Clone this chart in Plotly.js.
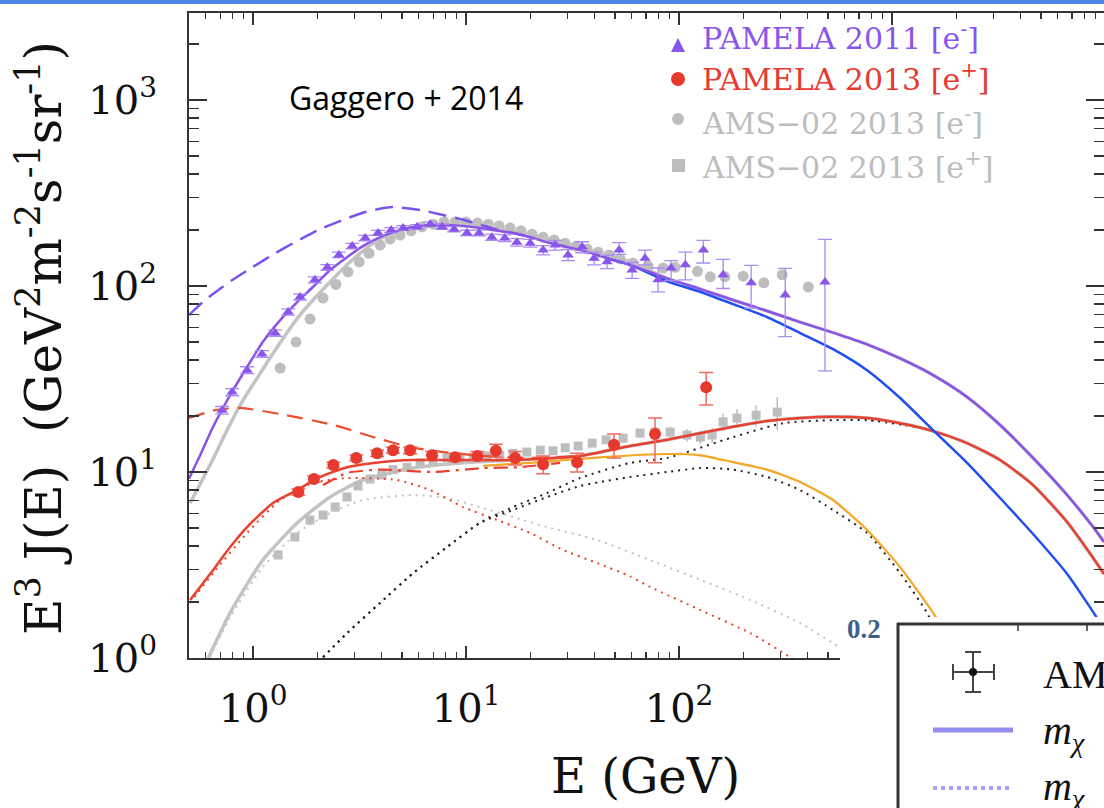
<!DOCTYPE html>
<html><head><meta charset="utf-8">
<script src="https://cdn.plot.ly/plotly-3.0.1.min.js"></script>
<style>html,body{margin:0;padding:0;background:#fff}#chart{width:1104px;height:808px}</style>
</head><body><div id="chart"></div>
<script>
// ---------------- data ----------------
// PAMELA 2011 electrons
const pamE = [0.715,0.797,0.937,1.10,1.27,1.46,1.66,1.95,2.23,2.53,2.92,3.36,3.86,4.45,5.06,5.89,6.78,7.72,8.78,10.1,11.5,13.2,15.2,17.3,20.0,23.0,26.2,30.1,35.1,39.9,45.9,52.3,60.2,69.2,79.7,91.7,107,130,161,218,315,484];
const pamJ = [21.5,26.9,35.3,43.1,55.9,72.5,87.2,108,126,147,164,181,193,200,205,208,215,208,202,193,193,183,181,172,170,156,166,147,162,141,135,156,122,141,108,125,130,156,115,104,89.5,105];
const pamErrUp = [1,1.2,1.5,1.8,2.2,2.8,3.3,4,4.5,5,5.5,6,6,6,6,6,6.5,6.5,6.5,6.5,7,7,7.5,8,8,9,10,10,11,11,11,15,12,15,17,12,22,20,24,25,35,73];
const pamErrDn = [1,1.2,1.5,1.8,2.2,2.8,3.3,4,4.5,5,5.5,6,6,6,6,6,6.5,6.5,6.5,6.5,7,7,7.5,8,8,9,10,10,11,11,11,8,12,11,15,18,22,23,18,28,36,70];
// PAMELA 2013 positrons
const posE = [1.63,1.93,2.38,3.05,3.82,4.54,5.46,6.92,8.88,11.3,13.8,17.0,23.0,33.2,49.5,77.1,134];
const posJ = [7.81,9.17,10.9,11.9,12.6,13.1,13.1,12.3,12.0,12.2,13.0,11.9,11.0,11.3,14.0,16.0,28.6];
const posErrUp = [0.3,0.35,0.4,0.45,0.5,0.5,0.55,0.6,0.6,0.7,1.1,1.0,1.2,1.3,2.0,3.5,5.7];
const posErrDn = [0.3,0.35,0.4,0.45,0.5,0.5,0.55,0.6,0.6,0.7,1.0,1.0,1.2,1.3,2.1,4.8,5.7];
// AMS-02 2013 electrons
const amsEmE = [1.34,1.59,1.85,2.13,2.45,2.79,3.15,3.50,3.95,4.40,4.90,5.52,6.21,7.0,7.88,8.88,10.0,11.3,12.7,14.3,16.1,18.1,20.4,23.0,25.9,29.2,32.8,37.0,41.7,46.9,52.8,60.8,71.5,84.1,95.8,122,140,164,200,250,305,404];
const amsEmJ = [36.2,50.0,66.4,86.2,102,119,135,150,166,179,188,198,208,215,221,221,221,218,215,210,205,198,190,183,177,170,164,158,152,147,140,133,128,125,126,120,112,112,113,104,115,98.8];
// AMS-02 2013 positrons
const amsEpE = [1.31,1.57,1.85,2.13,2.43,2.76,3.11,3.54,4.03,4.54,5.28,6.08,7.00,8.14,9.37,10.8,12.5,14.4,16.6,19.3,22.3,25.6,29.2,33.6,39.1,45.4,54.6,65.6,77.1,90.7,109,126,143,161,187,230,289];
const amsEpJ = [3.58,4.47,5.52,5.87,6.48,7.34,8.41,9.17,9.64,10.3,10.6,11.2,11.6,11.9,12.0,12.0,12.2,12.3,12.6,12.8,13.1,13.0,13.5,13.8,14.3,14.9,15.2,16.2,16.4,16.4,15.8,15.4,15.8,18.6,19.5,20.2,21.0];
const amsEpErr = [0.15,0.18,0.2,0.2,0.22,0.25,0.28,0.3,0.3,0.32,0.33,0.35,0.36,0.37,0.38,0.38,0.4,0.4,0.42,0.45,0.5,0.5,0.55,0.6,0.65,0.7,0.8,0.9,1.0,1.1,1.2,1.3,1.5,2.0,2.3,2.7,4.3];

// model curves
const eLisE = [0.5,0.595,0.763,0.989,1.27,1.57,2.02,2.62,3.36,4.5,6.08,7.8,9.7,11.6,14.0,20.0];
const eLisJ = [69.8,84,104,126,150,172,200,226,250,266,256,241,227,214,201,184];
const eTotE = [0.5,0.564,0.649,0.780,0.937,1.11,1.34,1.61,1.91,2.30,2.76,3.28,3.95,4.74,5.64,6.78,8.14,9.68,11.6,14.0,16.6,20.0,24.0,28.5,34.3,41.2,49.0,58.9,87.8,126,179,259,370,528,763,1091,1557,2250,3214,4591,6637,8790,9890];
const eTotJ = [9.2,12.3,17.5,25.9,36.7,50.0,65.6,82.0,98.8,122,143,164,183,198,208,213,213,210,205,198,193,183,172,164,156,147,138,130,110,96.3,84.1,73.4,64.0,56.2,48.6,40.8,33.2,25.3,17.9,11.9,7.52,5.06,4.20];
const eBlueE = [41.2,49.0,58.9,87.8,126,179,259,370,528,763,1091,1557,2250,3214,4591,6637,9170,9890];
const eBlueJ = [147,138,130,106,92.9,80.0,68.1,55.9,45.8,35.3,25.0,16.8,11.2,7.25,4.64,2.83,1.64,1.41];
const eGrayE = [0.506,0.628,0.755,0.898,1.03,1.27,1.63,2.18,2.92,3.86,5.01,6.78,9.68,14.0,20.0,34.3,58.9,87.8,126,179,259,370,528,763,1091,1557,2250,3214,4591,6637,8790,9890];
const eGrayJ = [6.81,10.9,16.8,24.4,31.2,45.3,68.1,98.8,138,177,200,210,213,202,188,160,135,110,96.3,84.1,73.4,64.0,56.2,48.6,40.8,33.2,25.3,17.9,11.9,7.52,5.06,4.20];
const pTotE = [0.506,0.649,0.780,0.937,1.24,1.61,2.06,2.76,3.95,5.64,9.68,16.6,34.3,58.9,87.8,179,259,370,528,763,1091,1557,2250,3214,4591,6637,8790,9890];
const pTotJ = [2.05,2.97,3.95,5.06,6.81,8.00,9.40,10.6,11.3,11.6,11.6,11.6,12.2,13.8,14.9,17.5,18.8,19.5,19.8,19.5,18.3,16.6,14.3,11.6,8.51,5.38,3.45,2.83];
const pLisE = [0.5,0.663,0.869,1.34,2.38,3.82,5.46,7.80,12.0,20.0,34.3];
const pLisJ = [19.5,21.5,22.1,20.5,17.9,15.2,13.6,12.8,12.2,11.9,12.2];
const pDdE = [2.13,2.76,3.95,7.0,12.0,17.4,27.6];
const pDdJ = [8.51,9.88,10.3,10.0,10.5,10.6,11.2];
const orangeE = [12.0,20.0,42.6,87.8,126,179,259,370,528,763,1091,1557,1871,2042];
const orangeJ = [10.8,11.2,12.0,12.5,12.3,11.3,10.3,8.84,7.07,4.88,3.08,1.75,1.25,0.98];
const pSecE = [0.506,0.649,0.937,1.34,1.91,2.76,4.74,6.78,9.68,14.0,20.0,28.5,41.2,58.9,73.1,126,216,332,370];
const pSecJ = [1.98,2.86,4.70,7.07,8.73,9.28,9.06,8.00,6.48,5.52,4.70,3.81,3.24,2.75,2.41,1.81,1.36,1.01,0.92];
const gSecE = [0.628,0.780,1.11,1.61,2.30,3.28,5.64,8.14,11.6,16.6,24.0,41.2,73.1,126,216,370,528,670];
const gSecJ = [1.01,1.66,3.08,4.70,6.02,7.07,7.52,7.25,6.48,5.73,5.06,4.31,3.36,2.63,2.05,1.54,1.20,0.98];
const gPosE = [0.595,0.780,1.11,1.61,2.30,3.28,5.64,9.68,16.6,34.3,58.9,87.8,179,259,370,528,763,1091,1557,2250,3214,4591,6637,8790,9890];
const gPosJ = [0.92,1.75,3.36,5.32,7.34,9.06,10.5,11.2,11.6,12.2,13.8,14.9,17.5,18.8,19.5,19.8,19.5,18.3,16.6,14.3,11.6,8.51,5.38,3.45,2.83];
const extraAE = [2.13,2.76,3.95,5.64,8.14,11.6,16.6,24.0,34.3,58.9,87.8,179,308,528,763,1309];
const extraAJ = [1.01,1.36,1.98,2.86,3.95,5.32,6.48,7.71,9.28,11.2,11.9,15.4,18.3,19.0,19.0,17.5];
const extraBE = [2.13,2.76,3.95,5.64,8.14,11.6,16.6,24.0,34.3,42.6,58.9,87.8,126,179,259,370,528,763,1091,1459,1680,1900];
const extraBJ = [1.01,1.36,1.98,2.86,3.95,5.32,6.25,7.34,8.41,8.84,9.40,10.0,10.5,10.3,9.40,8.00,6.25,4.70,2.86,1.75,1.25,0.95];

// ticks
const xTickVals = [1,10,100,1000];
const xTickText = ['10<sup>0</sup>','10<sup>1</sup>','10<sup>2</sup>','10<sup>3</sup>'];
const yTickVals = [1,10,100,1000];
const yTickText = ['10<sup>0</sup>','10<sup>1</sup>','10<sup>2</sup>','10<sup>3</sup>'];
const xMinor = [0.6,0.7,0.8,0.9,2,3,4,5,6,7,8,9,20,30,40,50,60,70,80,90,200,300,400,500,600,700,800,900,2000,3000,4000,5000,6000,7000,8000,9000];
const yMinor = [2,3,4,5,6,7,8,9,20,30,40,50,60,70,80,90,200,300,400,500,600,700,800,900,2000];

const legendLabels = ['PAMELA 2011 [e<sup>-</sup>]','PAMELA 2013 [e<sup>+</sup>]','AMS\u221202 2013 [e<sup>-</sup>]','AMS\u221202 2013 [e<sup>+</sup>]'];
const legendColors = ['#8a55ea','#e8392f','#bdbdbd','#bdbdbd'];

// ---------------- traces ----------------
const PUR='#8a52e6', RED='#e8412f', GRY='#c3c3c3', BLK='#222222', ORG='#f5a623', BLU='#1f4ef5';
function line(x,y,color,width,dash){return {x:x,y:y,mode:'lines',type:'scatter',hoverinfo:'skip',
  line:{color:color,width:width,dash:dash||'solid',shape:'spline',smoothing:0.6}};}

const traces = [
  line(gPosE,gPosJ,GRY,3.5),
  line(gSecE,gSecJ,GRY,2,'2px,5px'),
  line(eGrayE,eGrayJ,GRY,3.5),
  {x:amsEmE,y:amsEmJ,mode:'markers',type:'scatter',marker:{symbol:'circle',size:11,color:'#bebebe'}},
  {x:amsEpE,y:amsEpJ,mode:'markers',type:'scatter',marker:{symbol:'square',size:9,color:'#bebebe'},
   error_y:{type:'data',array:amsEpErr,color:'#bebebe',thickness:1.5,width:0}},
  line(pSecE,pSecJ,RED,2,'2px,5px'),
  line(extraAE,extraAJ,BLK,2,'2px,5px'),
  line(extraBE,extraBJ,BLK,2,'2px,5px'),
  line(orangeE,orangeJ,ORG,2.2),
  line(pDdE,pDdJ,RED,2.2,'14px,6px,3px,6px'),
  line(pLisE,pLisJ,'#e8502f',2.2,'16px,9px'),
  line(pTotE,pTotJ,RED,2.5),
  {x:posE,y:posJ,mode:'markers',type:'scatter',marker:{symbol:'circle',size:12,color:'#e8392f'},
   error_y:{type:'data',symmetric:false,array:posErrUp,arrayminus:posErrDn,color:'#f06a5f',thickness:1.5,width:7}},
  line(eBlueE,eBlueJ,BLU,2.5),
  line(eLisE,eLisJ,'#7b52f0',2.5,'18px,9px'),
  line(eTotE,eTotJ,PUR,2.5),
  {x:pamE,y:pamJ,mode:'markers',type:'scatter',marker:{symbol:'triangle-up',size:10,color:'#8a55ea'},
   error_y:{type:'data',symmetric:false,array:pamErrUp,arrayminus:pamErrDn,color:'#a98bf2',thickness:1.3,width:7}}
];

// ---------------- layout ----------------
const P = x => (x-189)/915;   // pixel -> paper x
const Q = y => (658-y)/645;   // pixel -> paper y
const SERIF = 'DejaVu Serif';

const annotations = [];
legendLabels.forEach((t,i)=>{
  annotations.push({xref:'paper',yref:'paper',x:P(700),y:Q([36,77,121,166][i]),xanchor:'left',yanchor:'middle',
    text:t,showarrow:false,font:{family:SERIF,size:30,color:legendColors[i]}});
});
annotations.push({xref:'paper',yref:'paper',x:P(287),y:Q(97),xanchor:'left',yanchor:'middle',text:'Gaggero + 2014',
  showarrow:false,font:{family:'Open Sans',size:32,color:'#000'}});
annotations.push({xref:'paper',yref:'paper',x:P(40),y:Q(338),xanchor:'center',yanchor:'middle',textangle:-90,
  text:'E<sup>3</sup> J(E)\u00a0\u00a0(GeV<sup>2</sup>m<sup>-2</sup>s<sup>-1</sup>sr<sup>-1</sup>)',showarrow:false,
  font:{family:SERIF,size:50,color:'#111'}});
annotations.push({xref:'paper',yref:'paper',x:P(645),y:Q(776),xanchor:'center',yanchor:'middle',text:'E (GeV)',
  showarrow:false,font:{family:SERIF,size:48,color:'#111'}});
// overlay piece of another figure
annotations.push({xref:'paper',yref:'paper',x:P(845),y:Q(629),xanchor:'left',yanchor:'middle',text:'<b>0.2</b>',
  showarrow:false,font:{family:'Liberation Serif',size:27,color:'#3d6189'}});
annotations.push({xref:'paper',yref:'paper',x:P(1041),y:Q(674),xanchor:'left',yanchor:'middle',text:'AM',
  showarrow:false,font:{family:'Liberation Serif',size:40,color:'#111'}});
annotations.push({xref:'paper',yref:'paper',x:P(1041),y:Q(733),xanchor:'left',yanchor:'middle',text:'<i>m</i><sub><i>\u03c7</i></sub>',
  showarrow:false,font:{family:'Liberation Serif',size:40,color:'#111'}});
annotations.push({xref:'paper',yref:'paper',x:P(1041),y:Q(789),xanchor:'left',yanchor:'middle',text:'<i>m</i><sub><i>\u03c7</i></sub>',
  showarrow:false,font:{family:'Liberation Serif',size:40,color:'#111'}});

function seg(x0,y0,x1,y1,color,width,dash){return {type:'line',xref:'paper',yref:'paper',x0:P(x0),y0:Q(y0),x1:P(x1),y1:Q(y1),
  layer:'above',line:{color:color,width:width,dash:dash||'solid'}};}
const shapes = [
  {type:'rect',xref:'paper',yref:'paper',x0:P(-2),x1:P(1110),y0:Q(4),y1:Q(-2),fillcolor:'#4a86e8',line:{width:0},layer:'above'},
  {type:'path',xref:'paper',yref:'paper',path:`M ${P(671)},${Q(52)} L ${P(685)},${Q(52)} L ${P(678)},${Q(38)} Z`,fillcolor:'#8a55ea',line:{width:0},layer:'above'},
  {type:'circle',xref:'paper',yref:'paper',x0:P(671),x1:P(685),y0:Q(86),y1:Q(72),fillcolor:'#e8392f',line:{width:0},layer:'above'},
  {type:'circle',xref:'paper',yref:'paper',x0:P(672),x1:P(684),y0:Q(125),y1:Q(113),fillcolor:'#bdbdbd',line:{width:0},layer:'above'},
  {type:'rect',xref:'paper',yref:'paper',x0:P(672),x1:P(685),y0:Q(172),y1:Q(159),fillcolor:'#bdbdbd',line:{width:0},layer:'above'},
  // overlay
  {type:'rect',xref:'paper',yref:'paper',x0:P(840),x1:P(1112),y0:Q(815),y1:Q(617),fillcolor:'#ffffff',line:{width:0},layer:'above'},
  seg(898,623,898,815,'#333',3), seg(897,624,1112,624,'#333',3),
  seg(1018,624,1018,631,'#333',1.5), seg(1087,624,1087,631,'#333',1.5),
  seg(953,672,994,672,'#444',2), seg(953,664,953,680,'#444',2), seg(994,664,994,680,'#444',2),
  seg(973,652,973,692,'#444',2), seg(965,652,981,652,'#444',2), seg(965,692,981,692,'#444',2),
  {type:'circle',xref:'paper',yref:'paper',x0:P(969),x1:P(977),y0:Q(676),y1:Q(668),fillcolor:'#111',line:{width:0},layer:'above'},
  seg(933,730,1013,730,'#958cf2',5), seg(933,788,1013,788,'#a9a2f5',4,'dot')
];

const axisCommon = {showgrid:false,zeroline:false,showline:true,linecolor:'#333',linewidth:2,mirror:'ticks',
  ticks:'inside',tickcolor:'#333',tickwidth:1.5,tickmode:'array'};

const layout = {
  width:1104,height:808,margin:{l:189,r:0,t:13,b:150},
  paper_bgcolor:'#fff',plot_bgcolor:'#fff',showlegend:false,
  xaxis:Object.assign({},axisCommon,{type:'log',range:[-0.301,3.995],tickvals:xTickVals,ticktext:xTickText,ticklen:12,
    ticklabelstandoff:14,tickfont:{family:SERIF,size:40,color:'#111'},
    minor:{tickmode:'array',tickvals:xMinor,ticks:'inside',ticklen:6,tickcolor:'#333',tickwidth:1.2,showgrid:false}}),
  yaxis:Object.assign({},axisCommon,{type:'log',range:[0,3.468],tickvals:yTickVals,ticktext:yTickText,ticklen:18,
    ticklabelstandoff:22,tickfont:{family:SERIF,size:40,color:'#111'},
    minor:{tickmode:'array',tickvals:yMinor,ticks:'inside',ticklen:10,tickcolor:'#333',tickwidth:1.2,showgrid:false}}),
  annotations:annotations,shapes:shapes
};

Plotly.newPlot('chart',traces,layout,{displayModeBar:false,staticPlot:true});
</script></body></html>
